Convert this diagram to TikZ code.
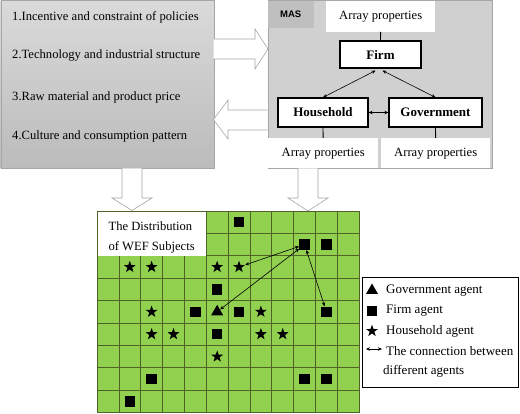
\documentclass[tikz,border=0pt]{standalone}
\usepackage{fontspec}
\setmainfont{Liberation Serif}
\newfontfamily\masfont{Liberation Sans}
\usetikzlibrary{arrows.meta,calc,positioning,shapes.geometric}
\definecolor{GridClr}{HTML}{92D050}
\definecolor{GridLineClr}{HTML}{4F6228}
\definecolor{BoxClr}{HTML}{D0D0D0}
\definecolor{TagClr}{HTML}{BFBFBF}
\definecolor{EdgeClr}{HTML}{A6A6A6}
\definecolor{TopClr}{HTML}{DADADA}
\definecolor{BotClr}{HTML}{BBBBBB}

\begin{document}
\begin{tikzpicture}[x=1pt,y=-1pt,
  txt/.style={font=\fontsize{12.6}{14}\selectfont,inner sep=0pt},
  agentbox/.style={draw=black,line width=1.2pt,fill=white,inner sep=0pt,
    font=\bfseries\fontsize{13}{15}\selectfont},
  propbox/.style={fill=white,inner sep=0pt,anchor=north west,
    font=\fontsize{12.6}{14}\selectfont},
  blockarrow/.style={draw=EdgeClr,fill=white,line width=0.6pt},
  link/.style={{Stealth[length=4pt,width=3.5pt]}-{Stealth[length=4pt,width=3.5pt]},line width=0.6pt},
  firmag/.style={rectangle,fill=black,minimum size=10.5pt,inner sep=0pt},
  hhag/.style={star,star points=5,star point ratio=2.5,fill=black,minimum size=12.5pt,inner sep=0pt},
  govag/.style={regular polygon,regular polygon sides=3,fill=black,minimum size=14pt,inner sep=0pt}]
\useasboundingbox (0,0) rectangle (520,414);

% Influencing factors.
\node[draw=EdgeClr,top color=TopClr,bottom color=BotClr,anchor=north west,
  minimum width=213pt,minimum height=168pt] (factors) at (0.5,0.5) {};
\node[txt,anchor=west] (fac1) at (12,17) {1.Incentive and constraint of policies};
\node[txt,anchor=west] (fac2) at (12,55) {2.Technology and industrial structure};
\node[txt,anchor=west] (fac3) at (12,97) {3.Raw material and product price};
\node[txt,anchor=west] (fac4) at (12,136) {4.Culture and consumption pattern};

% The MAS block.
\node[draw=EdgeClr,fill=BoxClr,anchor=north west,
  minimum width=224.5pt,minimum height=168pt] (mas) at (267.5,0.5) {};
\node[fill=TagClr,anchor=north west,minimum width=46pt,minimum height=27pt,inner sep=0pt,
  font=\masfont\bfseries\fontsize{9.5}{11}\selectfont] (mastag) at (267.5,0.5) {MAS};
\node[propbox,minimum width=109pt,minimum height=31pt] (arrTop) at (326,0.5) {Array properties};
\node[agentbox,minimum width=81pt,minimum height=27pt] (firm) at (380.5,54.5) {Firm};
\node[agentbox,minimum width=90pt,minimum height=29pt] (household) at (323,112.5) {Household};
\node[agentbox,minimum width=93pt,minimum height=29pt] (government) at (435.5,112.5) {Government};
\node[propbox,minimum width=110pt,minimum height=30pt] (arrHh) at (268,138) {Array properties};
\node[propbox,minimum width=109pt,minimum height=30pt] (arrGov) at (381,138) {Array properties};

\draw[line width=0.8pt] (arrTop) -- (firm);
\draw[line width=0.8pt] (household) -- (arrHh);
\draw[line width=0.8pt] (government) -- (arrGov);
\draw[link] ([xshift=-5pt,yshift=-2pt]firm.south) -- (household.north);
\draw[link] ([xshift=2pt,yshift=-2pt]firm.south) -- (government.north);
\draw[link] (household.east) -- (government.west);

% Hollow arrows between the blocks.
\draw[blockarrow] (213.5,39) -- (255,39) -- (255,29) -- (268,49) -- (255,69) -- (255,59) -- (213.5,59);
\draw[blockarrow] (267.5,110) -- (228,110) -- (228,100) -- (213.5,119.5) -- (228,139) -- (228,130) -- (267.5,130);
\draw[blockarrow] (122,168.5) -- (122,198) -- (112,198) -- (132,210.5) -- (152,198) -- (142,198) -- (142,168.5);
\draw[blockarrow] (298,168.5) -- (298,198) -- (288,198) -- (308,211) -- (328,198) -- (318,198) -- (318,168.5);

% The grid of agents.
\begin{scope}[shift={(97,211)},x=21.85pt,y=-22.4pt]
\fill[GridClr] (0,0) rectangle (12,9);
\foreach \c in {0,...,12} \draw[GridLineClr,line width=0.7pt] (\c,0) -- (\c,9);
\foreach \r in {0,...,9} \draw[GridLineClr,line width=0.7pt] (0,\r) -- (12,\r);
\fill[white] (0,0) rectangle (5,2);
\draw[GridLineClr,line width=0.7pt] (0,0) rectangle (12,9);
\node[inner sep=0pt,align=left,font=\fontsize{12.6}{20}\selectfont] (title)
  at ([yshift=-4pt]2.5,1) {The Distribution\\of WEF Subjects};

\foreach \c/\r [count=\i] in {6/0,9/1,10/1,5/3,4/4,6/4,10/4,5/5,2/7,9/7,10/7,1/8}
  \node[firmag] (F\i) at (\c+0.5,\r+0.5) {};
\foreach \c/\r [count=\i] in {1/2,2/2,5/2,6/2,2/4,7/4,2/5,3/5,7/5,8/5,5/6}
  \node[hhag] (H\i) at (\c+0.5,\r+0.5) {};
\node[govag] (G1) at (5.5,4.5) {};
\end{scope}

% Connections between agents.
\draw[link] (H4) -- (F2);
\draw[link] (G1) -- (F2);
\draw[link] (F2) -- (F7);

% Legend.
\node[draw=black,line width=0.8pt,fill=white,anchor=north west,
  minimum width=156pt,minimum height=110pt] (legend) at (362,277) {};
\node[govag] (lgGov) at (372,290.5) {};
\node[firmag] (lgFirm) at (372,311) {};
\node[hhag] (lgHh) at (372,331) {};
\coordinate (lgA) at (366,349);
\coordinate (lgB) at (382,349);
\draw[link] (lgA) -- (lgB);
\node[txt,anchor=west,font=\fontsize{13}{20}\selectfont] (lgGovTxt) at (386,291) {Government agent};
\node[txt,anchor=west,font=\fontsize{13}{20}\selectfont] (lgFirmTxt) at (386,311) {Firm agent};
\node[txt,anchor=west,font=\fontsize{13}{20}\selectfont] (lgHhTxt) at (386,331) {Household agent};
\node[txt,anchor=west,font=\fontsize{13}{20}\selectfont] (lgLinkTxt) at (386,351) {The connection between};
\node[txt,anchor=west,font=\fontsize{13}{20}\selectfont] (lgLinkTxt2) at (383,371) {different agents};

\end{tikzpicture}
\end{document}
